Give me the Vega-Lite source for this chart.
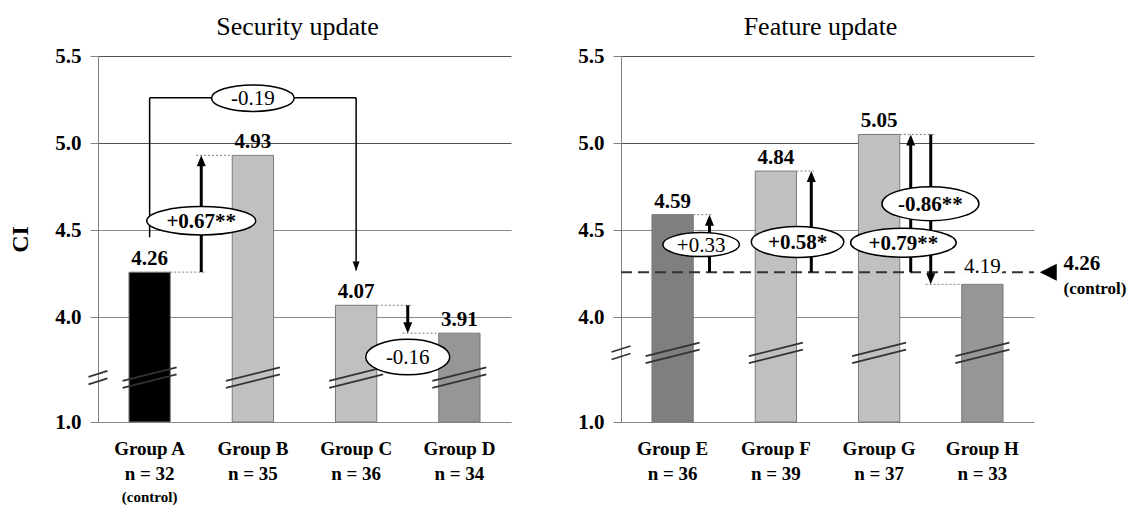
{
  "$schema": "https://vega.github.io/schema/vega-lite/v6.json",
  "background": "white",
  "padding": {"left": 8, "top": 14, "right": 0, "bottom": 0},
  "spacing": 66,
  "config": {
    "font": "Liberation Serif",
    "view": {"stroke": null},
    "axis": {"labelFont": "Liberation Serif", "titleFont": "Liberation Serif"},
    "title": {"font": "Liberation Serif"},
    "text": {"font": "Liberation Serif"}
  },
  "datasets": {
    "bars": [
      {"panel": "Security update", "group": "Group A", "label": "Group A|n = 32", "value": 4.26},
      {"panel": "Security update", "group": "Group B", "label": "Group B|n = 35", "value": 4.93},
      {"panel": "Security update", "group": "Group C", "label": "Group C|n = 36", "value": 4.07},
      {"panel": "Security update", "group": "Group D", "label": "Group D|n = 34", "value": 3.91},
      {"panel": "Feature update", "group": "Group E", "label": "Group E|n = 36", "value": 4.59},
      {"panel": "Feature update", "group": "Group F", "label": "Group F|n = 39", "value": 4.84},
      {"panel": "Feature update", "group": "Group G", "label": "Group G|n = 37", "value": 5.05},
      {"panel": "Feature update", "group": "Group H", "label": "Group H|n = 33", "value": 4.19}
    ],
    "guides": [
      {"panel": "Security update", "y": 4.26, "x1": 0.7, "x2": 1.05},
      {"panel": "Security update", "y": 4.93, "x1": 0.95, "x2": 1.3},
      {"panel": "Security update", "y": 4.07, "x1": 2.7, "x2": 3.05},
      {"panel": "Security update", "y": 3.91, "x1": 2.95, "x2": 3.3},
      {"panel": "Feature update", "y": 4.59, "x1": 0.7, "x2": 0.88},
      {"panel": "Feature update", "y": 4.84, "x1": 1.7, "x2": 1.87},
      {"panel": "Feature update", "y": 5.05, "x1": 2.7, "x2": 3.05},
      {"panel": "Feature update", "y": 4.19, "x1": 2.95, "x2": 3.3}
    ],
    "bracket": [
      {"x1": 0.5, "x2": 0.5, "y1": 5.26, "y2": 4.46},
      {"x1": 0.5, "x2": 2.5, "y1": 5.26, "y2": 5.26},
      {"x1": 2.5, "x2": 2.5, "y1": 5.26, "y2": 4.27}
    ],
    "arrows": [
      {"panel": "Security update", "x": 1.0, "from": 4.26, "to": 4.93},
      {"panel": "Security update", "x": 3.0, "from": 4.07, "to": 3.91},
      {"panel": "Feature update", "x": 0.857, "from": 4.26, "to": 4.59},
      {"panel": "Feature update", "x": 1.843, "from": 4.26, "to": 4.84},
      {"panel": "Feature update", "x": 2.806, "from": 4.26, "to": 5.05},
      {"panel": "Feature update", "x": 3.0, "from": 5.05, "to": 4.19}
    ],
    "ellipses": [
      {"panel": "Security update", "x": 1.5, "y": 5.258, "label": "-0.19"},
      {"panel": "Security update", "x": 1.0, "y": 4.555, "label": "+0.67**"},
      {"panel": "Security update", "x": 3.0, "y": 3.773, "label": "-0.16"},
      {"panel": "Feature update", "x": 0.776, "y": 4.418, "label": "+0.33"},
      {"panel": "Feature update", "x": 1.71, "y": 4.433, "label": "+0.58*"},
      {"panel": "Feature update", "x": 2.735, "y": 4.429, "label": "+0.79**"},
      {"panel": "Feature update", "x": 2.997, "y": 4.653, "label": "-0.86**"}
    ]
  },
  "hconcat": [
    {
      "width": 413,
      "height": 366,
      "title": {"text": "Security update", "frame": "group", "dx": -7, "offset": 5, "fontSize": 26, "fontWeight": "normal", "color": "black"},
      "resolve": {"scale": {"x": "independent"}},
      "layer": [
        {
          "data": {"name": "bars"},
          "transform": [{"filter": "datum.panel === 'Security update'"}],
          "mark": {"type": "bar", "stroke": "#7a7a7a", "strokeWidth": 1},
          "encoding": {
            "x": {"field": "label", "type": "nominal", "scale": {"domain": ["Group A|n = 32", "Group B|n = 35", "Group C|n = 36", "Group D|n = 34"], "paddingInner": 0.6, "paddingOuter": 0.3},
              "axis": {"title": null, "domain": false, "ticks": false, "labelAngle": 0, "labelExpr": "split(datum.label, '|')", "labelFontSize": 19, "labelFontWeight": "bold", "labelColor": "black", "labelLineHeight": 25, "labelPadding": 17}},
            "y": {"field": "value", "type": "quantitative", "scale": {"domain": [1, 3.6, 5.5], "range": [366, 331.2, 0], "nice": false, "zero": false},
              "axis": {"title": "CI", "titleFontSize": 24, "titleFontWeight": "bold", "titleColor": "black", "titlePadding": 22, "values": [1, 4, 4.5, 5, 5.5], "format": ".1f", "labelFontSize": 21, "labelFontWeight": "bold", "labelColor": "black", "labelPadding": 9, "tickSize": 8, "tickColor": "#808080", "domainColor": "#808080", "grid": true, "gridColor": {"condition": {"test": "datum.value >= 5", "value": "#505050"}, "value": "#8a8a8a"}, "gridWidth": 1, "labelOverlap": false}},
            "y2": {"datum": 1},
            "color": {"field": "group", "type": "nominal", "legend": null,
              "scale": {"domain": ["Group A", "Group B", "Group C", "Group D", "Group E", "Group F", "Group G", "Group H"], "range": ["#000000", "#c0c0c0", "#c0c0c0", "#969696", "#7f7f7f", "#c0c0c0", "#c0c0c0", "#969696"]}}
          }
        },
        {
          "data": {"name": "bars"},
          "transform": [{"filter": "datum.panel === 'Security update'"}],
          "mark": {"type": "point", "shape": "M-27,3.25L27,-10.25M-27,10.25L27,-3.25", "size": 4, "filled": false, "stroke": "#333333", "strokeWidth": 1.6, "opacity": 1},
          "encoding": {"x": {"field": "label", "type": "nominal", "scale": {"domain": ["Group A|n = 32", "Group B|n = 35", "Group C|n = 36", "Group D|n = 34"], "paddingInner": 0.6, "paddingOuter": 0.3}, "axis": null}, "y": {"datum": 3.655}}
        },
        {
          "data": {"name": "bars"},
          "transform": [{"filter": "datum.panel === 'Security update'"}],
          "mark": {"type": "text", "fontSize": 21, "fontWeight": "bold", "baseline": "alphabetic", "dy": -7, "color": "black"},
          "encoding": {"x": {"field": "label", "type": "nominal", "scale": {"domain": ["Group A|n = 32", "Group B|n = 35", "Group C|n = 36", "Group D|n = 34"], "paddingInner": 0.6, "paddingOuter": 0.3}, "axis": null}, "y": {"field": "value", "type": "quantitative"}, "text": {"field": "value", "type": "quantitative", "format": ".2f"}}
        },
        {
          "data": {"name": "bars"},
          "transform": [{"filter": "datum.group === 'Group A'"}],
          "mark": {"type": "text", "text": "(control)", "fontSize": 15, "fontWeight": "bold", "baseline": "middle", "dy": 75, "color": "black"},
          "encoding": {"x": {"field": "label", "type": "nominal", "scale": {"domain": ["Group A|n = 32", "Group B|n = 35", "Group C|n = 36", "Group D|n = 34"], "paddingInner": 0.6, "paddingOuter": 0.3}, "axis": null}, "y": {"datum": 1}}
        },
        {
          "data": {"name": "guides"},
          "transform": [{"filter": "datum.panel === 'Security update'"}],
          "mark": {"type": "rule", "strokeDash": [2, 2], "color": "#7f7f7f", "strokeWidth": 1},
          "encoding": {"x": {"field": "x1", "type": "quantitative", "scale": {"domain": [0, 4], "nice": false, "zero": false}, "axis": null}, "x2": {"field": "x2"}, "y": {"field": "y", "type": "quantitative"}}
        },
        {
          "data": {"name": "bracket"},
          "mark": {"type": "rule", "color": "black", "strokeWidth": 1.5},
          "encoding": {"x": {"field": "x1", "type": "quantitative", "scale": {"domain": [0, 4], "nice": false, "zero": false}, "axis": null}, "x2": {"field": "x2"}, "y": {"field": "y1", "type": "quantitative"}, "y2": {"field": "y2"}}
        },
        {
          "data": {"values": [{}]},
          "mark": {"type": "point", "shape": "M0,0L-3.5,-9L3.5,-9Z", "size": 4, "filled": true, "color": "black", "opacity": 1, "strokeWidth": 0},
          "encoding": {"x": {"datum": 2.5, "type": "quantitative", "scale": {"domain": [0, 4], "nice": false, "zero": false}, "axis": null}, "y": {"datum": 4.27}}
        },
        {
          "data": {"name": "arrows"},
          "transform": [{"filter": "datum.panel === 'Security update' && datum.to > datum.from"}],
          "mark": {"type": "rule", "color": "black", "strokeWidth": 3, "y2Offset": 9},
          "encoding": {"x": {"field": "x", "type": "quantitative", "scale": {"domain": [0, 4], "nice": false, "zero": false}, "axis": null}, "y": {"field": "from", "type": "quantitative"}, "y2": {"field": "to"}}
        },
        {
          "data": {"name": "arrows"},
          "transform": [{"filter": "datum.panel === 'Security update' && datum.to > datum.from"}],
          "mark": {"type": "point", "shape": "M0,0L-4.5,11L4.5,11Z", "size": 4, "filled": true, "color": "black", "opacity": 1, "strokeWidth": 0},
          "encoding": {"x": {"field": "x", "type": "quantitative", "scale": {"domain": [0, 4], "nice": false, "zero": false}, "axis": null}, "y": {"field": "to", "type": "quantitative"}}
        },
        {
          "data": {"name": "arrows"},
          "transform": [{"filter": "datum.panel === 'Security update' && datum.to < datum.from"}],
          "mark": {"type": "rule", "color": "black", "strokeWidth": 3, "y2Offset": -9},
          "encoding": {"x": {"field": "x", "type": "quantitative", "scale": {"domain": [0, 4], "nice": false, "zero": false}, "axis": null}, "y": {"field": "from", "type": "quantitative"}, "y2": {"field": "to"}}
        },
        {
          "data": {"name": "arrows"},
          "transform": [{"filter": "datum.panel === 'Security update' && datum.to < datum.from"}],
          "mark": {"type": "point", "shape": "M0,0L-4.5,-11L4.5,-11Z", "size": 4, "filled": true, "color": "black", "opacity": 1, "strokeWidth": 0},
          "encoding": {"x": {"field": "x", "type": "quantitative", "scale": {"domain": [0, 4], "nice": false, "zero": false}, "axis": null}, "y": {"field": "to", "type": "quantitative"}}
        },
        {
          "data": {"name": "ellipses"},
          "transform": [{"filter": "datum.panel === 'Security update'"}],
          "mark": {"type": "point", "size": 4, "filled": true, "fill": "white", "stroke": "black", "strokeWidth": 1.5, "opacity": 1},
          "encoding": {"x": {"field": "x", "type": "quantitative", "scale": {"domain": [0, 4], "nice": false, "zero": false}, "axis": null}, "y": {"field": "y", "type": "quantitative"},
            "shape": {"field": "label", "type": "nominal", "legend": null, "scale": {"domain": ["-0.19", "+0.67**", "-0.16", "+0.33", "+0.58*", "+0.79**", "-0.86**"], "range": ["M-41.3,0A41.3,13.3 0 1,0 41.3,0A41.3,13.3 0 1,0 -41.3,0Z", "M-54.5,0A54.5,14.2 0 1,0 54.5,0A54.5,14.2 0 1,0 -54.5,0Z", "M-42,0A42,17.8 0 1,0 42,0A42,17.8 0 1,0 -42,0Z", "M-38.3,0A38.3,12 0 1,0 38.3,0A38.3,12 0 1,0 -38.3,0Z", "M-46.3,0A46.3,15.5 0 1,0 46.3,0A46.3,15.5 0 1,0 -46.3,0Z", "M-52.8,0A52.8,14.5 0 1,0 52.8,0A52.8,14.5 0 1,0 -52.8,0Z", "M-48.5,0A48.5,17 0 1,0 48.5,0A48.5,17 0 1,0 -48.5,0Z"]}}}
        },
        {
          "data": {"name": "ellipses"},
          "transform": [{"filter": "datum.panel === 'Security update' && indexof(datum.label, '*') < 0"}],
          "mark": {"type": "text", "fontSize": 21, "fontWeight": "normal", "baseline": "middle", "dy": 1, "color": "black"},
          "encoding": {"x": {"field": "x", "type": "quantitative", "scale": {"domain": [0, 4], "nice": false, "zero": false}, "axis": null}, "y": {"field": "y", "type": "quantitative"}, "text": {"field": "label"}}
        },
        {
          "data": {"name": "ellipses"},
          "transform": [{"filter": "datum.panel === 'Security update' && indexof(datum.label, '*') >= 0"}],
          "mark": {"type": "text", "fontSize": 21, "fontWeight": "bold", "baseline": "middle", "dy": 1, "color": "black"},
          "encoding": {"x": {"field": "x", "type": "quantitative", "scale": {"domain": [0, 4], "nice": false, "zero": false}, "axis": null}, "y": {"field": "y", "type": "quantitative"}, "text": {"field": "label"}}
        },
        {
          "data": {"values": [{}]},
          "mark": {"type": "point", "shape": "M-9.5,-0.75L9.5,-6.75M-9.5,6.75L9.5,0.75", "size": 4, "filled": false, "stroke": "#333333", "strokeWidth": 1.6, "opacity": 1},
          "encoding": {"x": {"datum": 0, "type": "quantitative", "scale": {"domain": [0, 4], "nice": false, "zero": false}, "axis": null}, "y": {"datum": 3.655}}
        }
      ]
    },
    {
      "width": 413,
      "height": 366,
      "title": {"text": "Feature update", "frame": "group", "dx": -7, "offset": 5, "fontSize": 26, "fontWeight": "normal", "color": "black"},
      "resolve": {"scale": {"x": "independent"}},
      "layer": [
        {
          "data": {"name": "bars"},
          "transform": [{"filter": "datum.panel === 'Feature update'"}],
          "mark": {"type": "bar", "stroke": "#7a7a7a", "strokeWidth": 1},
          "encoding": {
            "x": {"field": "label", "type": "nominal", "scale": {"domain": ["Group E|n = 36", "Group F|n = 39", "Group G|n = 37", "Group H|n = 33"], "paddingInner": 0.6, "paddingOuter": 0.3},
              "axis": {"title": null, "domain": false, "ticks": false, "labelAngle": 0, "labelExpr": "split(datum.label, '|')", "labelFontSize": 19, "labelFontWeight": "bold", "labelColor": "black", "labelLineHeight": 25, "labelPadding": 17}},
            "y": {"field": "value", "type": "quantitative", "scale": {"domain": [1, 3.6, 5.5], "range": [366, 331.2, 0], "nice": false, "zero": false},
              "axis": {"title": null, "values": [1, 4, 4.5, 5, 5.5], "format": ".1f", "labelFontSize": 21, "labelFontWeight": "bold", "labelColor": "black", "labelPadding": 9, "tickSize": 8, "tickColor": "#808080", "domainColor": "#808080", "grid": true, "gridColor": {"condition": {"test": "datum.value >= 5", "value": "#505050"}, "value": "#8a8a8a"}, "gridWidth": 1, "labelOverlap": false}},
            "y2": {"datum": 1},
            "color": {"field": "group", "type": "nominal", "legend": null,
              "scale": {"domain": ["Group A", "Group B", "Group C", "Group D", "Group E", "Group F", "Group G", "Group H"], "range": ["#000000", "#c0c0c0", "#c0c0c0", "#969696", "#7f7f7f", "#c0c0c0", "#c0c0c0", "#969696"]}}
          }
        },
        {
          "data": {"name": "bars"},
          "transform": [{"filter": "datum.panel === 'Feature update'"}],
          "mark": {"type": "point", "shape": "M-27,3.25L27,-10.25M-27,10.25L27,-3.25", "size": 4, "filled": false, "stroke": "#333333", "strokeWidth": 1.6, "opacity": 1},
          "encoding": {"x": {"field": "label", "type": "nominal", "scale": {"domain": ["Group E|n = 36", "Group F|n = 39", "Group G|n = 37", "Group H|n = 33"], "paddingInner": 0.6, "paddingOuter": 0.3}, "axis": null}, "y": {"datum": 3.797}}
        },
        {
          "data": {"values": [{}]},
          "mark": {"type": "rule", "strokeDash": [11, 6], "strokeWidth": 2, "color": "#333333"},
          "encoding": {"x": {"datum": 0, "type": "quantitative", "scale": {"domain": [0, 4], "nice": false, "zero": false}, "axis": null}, "x2": {"datum": 4}, "y": {"datum": 4.26}}
        },
        {
          "data": {"name": "bars"},
          "transform": [{"filter": "datum.panel === 'Feature update' && datum.group !== 'Group H'"}],
          "mark": {"type": "text", "fontSize": 21, "fontWeight": "bold", "baseline": "alphabetic", "dy": -7, "color": "black"},
          "encoding": {"x": {"field": "label", "type": "nominal", "scale": {"domain": ["Group E|n = 36", "Group F|n = 39", "Group G|n = 37", "Group H|n = 33"], "paddingInner": 0.6, "paddingOuter": 0.3}, "axis": null}, "y": {"field": "value", "type": "quantitative"}, "text": {"field": "value", "type": "quantitative", "format": ".2f"}}
        },
        {
          "data": {"name": "bars"},
          "transform": [{"filter": "datum.group === 'Group H'"}],
          "mark": {"type": "text", "fontSize": 21, "fontWeight": "normal", "baseline": "alphabetic", "dy": -11, "color": "white", "stroke": "white", "strokeWidth": 7},
          "encoding": {"x": {"field": "label", "type": "nominal", "scale": {"domain": ["Group E|n = 36", "Group F|n = 39", "Group G|n = 37", "Group H|n = 33"], "paddingInner": 0.6, "paddingOuter": 0.3}, "axis": null}, "y": {"field": "value", "type": "quantitative"}, "text": {"field": "value", "type": "quantitative", "format": ".2f"}}
        },
        {
          "data": {"name": "bars"},
          "transform": [{"filter": "datum.group === 'Group H'"}],
          "mark": {"type": "text", "fontSize": 21, "fontWeight": "normal", "baseline": "alphabetic", "dy": -11, "color": "black"},
          "encoding": {"x": {"field": "label", "type": "nominal", "scale": {"domain": ["Group E|n = 36", "Group F|n = 39", "Group G|n = 37", "Group H|n = 33"], "paddingInner": 0.6, "paddingOuter": 0.3}, "axis": null}, "y": {"field": "value", "type": "quantitative"}, "text": {"field": "value", "type": "quantitative", "format": ".2f"}}
        },
        {
          "data": {"name": "guides"},
          "transform": [{"filter": "datum.panel === 'Feature update'"}],
          "mark": {"type": "rule", "strokeDash": [2, 2], "color": "#7f7f7f", "strokeWidth": 1},
          "encoding": {"x": {"field": "x1", "type": "quantitative", "scale": {"domain": [0, 4], "nice": false, "zero": false}, "axis": null}, "x2": {"field": "x2"}, "y": {"field": "y", "type": "quantitative"}}
        },
        {
          "data": {"name": "arrows"},
          "transform": [{"filter": "datum.panel === 'Feature update' && datum.to > datum.from"}],
          "mark": {"type": "rule", "color": "black", "strokeWidth": 3, "y2Offset": 9},
          "encoding": {"x": {"field": "x", "type": "quantitative", "scale": {"domain": [0, 4], "nice": false, "zero": false}, "axis": null}, "y": {"field": "from", "type": "quantitative"}, "y2": {"field": "to"}}
        },
        {
          "data": {"name": "arrows"},
          "transform": [{"filter": "datum.panel === 'Feature update' && datum.to > datum.from"}],
          "mark": {"type": "point", "shape": "M0,0L-4.5,11L4.5,11Z", "size": 4, "filled": true, "color": "black", "opacity": 1, "strokeWidth": 0},
          "encoding": {"x": {"field": "x", "type": "quantitative", "scale": {"domain": [0, 4], "nice": false, "zero": false}, "axis": null}, "y": {"field": "to", "type": "quantitative"}}
        },
        {
          "data": {"name": "arrows"},
          "transform": [{"filter": "datum.panel === 'Feature update' && datum.to < datum.from"}],
          "mark": {"type": "rule", "color": "black", "strokeWidth": 3, "y2Offset": -9},
          "encoding": {"x": {"field": "x", "type": "quantitative", "scale": {"domain": [0, 4], "nice": false, "zero": false}, "axis": null}, "y": {"field": "from", "type": "quantitative"}, "y2": {"field": "to"}}
        },
        {
          "data": {"name": "arrows"},
          "transform": [{"filter": "datum.panel === 'Feature update' && datum.to < datum.from"}],
          "mark": {"type": "point", "shape": "M0,0L-4.5,-11L4.5,-11Z", "size": 4, "filled": true, "color": "black", "opacity": 1, "strokeWidth": 0},
          "encoding": {"x": {"field": "x", "type": "quantitative", "scale": {"domain": [0, 4], "nice": false, "zero": false}, "axis": null}, "y": {"field": "to", "type": "quantitative"}}
        },
        {
          "data": {"name": "ellipses"},
          "transform": [{"filter": "datum.panel === 'Feature update'"}],
          "mark": {"type": "point", "size": 4, "filled": true, "fill": "white", "stroke": "black", "strokeWidth": 1.5, "opacity": 1},
          "encoding": {"x": {"field": "x", "type": "quantitative", "scale": {"domain": [0, 4], "nice": false, "zero": false}, "axis": null}, "y": {"field": "y", "type": "quantitative"},
            "shape": {"field": "label", "type": "nominal", "legend": null, "scale": {"domain": ["-0.19", "+0.67**", "-0.16", "+0.33", "+0.58*", "+0.79**", "-0.86**"], "range": ["M-41.3,0A41.3,13.3 0 1,0 41.3,0A41.3,13.3 0 1,0 -41.3,0Z", "M-54.5,0A54.5,14.2 0 1,0 54.5,0A54.5,14.2 0 1,0 -54.5,0Z", "M-42,0A42,17.8 0 1,0 42,0A42,17.8 0 1,0 -42,0Z", "M-38.3,0A38.3,12 0 1,0 38.3,0A38.3,12 0 1,0 -38.3,0Z", "M-46.3,0A46.3,15.5 0 1,0 46.3,0A46.3,15.5 0 1,0 -46.3,0Z", "M-52.8,0A52.8,14.5 0 1,0 52.8,0A52.8,14.5 0 1,0 -52.8,0Z", "M-48.5,0A48.5,17 0 1,0 48.5,0A48.5,17 0 1,0 -48.5,0Z"]}}}
        },
        {
          "data": {"name": "ellipses"},
          "transform": [{"filter": "datum.panel === 'Feature update' && indexof(datum.label, '*') < 0"}],
          "mark": {"type": "text", "fontSize": 21, "fontWeight": "normal", "baseline": "middle", "dy": 1, "color": "black"},
          "encoding": {"x": {"field": "x", "type": "quantitative", "scale": {"domain": [0, 4], "nice": false, "zero": false}, "axis": null}, "y": {"field": "y", "type": "quantitative"}, "text": {"field": "label"}}
        },
        {
          "data": {"name": "ellipses"},
          "transform": [{"filter": "datum.panel === 'Feature update' && indexof(datum.label, '*') >= 0"}],
          "mark": {"type": "text", "fontSize": 21, "fontWeight": "bold", "baseline": "middle", "dy": 1, "color": "black"},
          "encoding": {"x": {"field": "x", "type": "quantitative", "scale": {"domain": [0, 4], "nice": false, "zero": false}, "axis": null}, "y": {"field": "y", "type": "quantitative"}, "text": {"field": "label"}}
        },
        {
          "data": {"values": [{}]},
          "mark": {"type": "point", "shape": "M-9.5,-0.75L9.5,-6.75M-9.5,6.75L9.5,0.75", "size": 4, "filled": false, "stroke": "#333333", "strokeWidth": 1.6, "opacity": 1},
          "encoding": {"x": {"datum": 0, "type": "quantitative", "scale": {"domain": [0, 4], "nice": false, "zero": false}, "axis": null}, "y": {"datum": 3.797}}
        },
        {
          "data": {"values": [{}]},
          "mark": {"type": "point", "shape": "M-8.5,0L8.5,-8.5L8.5,8.5Z", "size": 4, "filled": true, "color": "black", "opacity": 1, "strokeWidth": 0},
          "encoding": {"x": {"datum": 4.138, "type": "quantitative", "scale": {"domain": [0, 4], "nice": false, "zero": false}, "axis": null}, "y": {"datum": 4.26}}
        },
        {
          "data": {"values": [{}]},
          "mark": {"type": "text", "text": "4.26", "align": "left", "baseline": "middle", "dy": -8, "fontSize": 21, "fontWeight": "bold", "color": "black"},
          "encoding": {"x": {"datum": 4.286, "type": "quantitative", "scale": {"domain": [0, 4], "nice": false, "zero": false}, "axis": null}, "y": {"datum": 4.26}}
        },
        {
          "data": {"values": [{}]},
          "mark": {"type": "text", "text": "(control)", "align": "left", "baseline": "middle", "dy": 17, "fontSize": 17, "fontWeight": "bold", "color": "black"},
          "encoding": {"x": {"datum": 4.286, "type": "quantitative", "scale": {"domain": [0, 4], "nice": false, "zero": false}, "axis": null}, "y": {"datum": 4.26}}
        }
      ]
    }
  ]
}
